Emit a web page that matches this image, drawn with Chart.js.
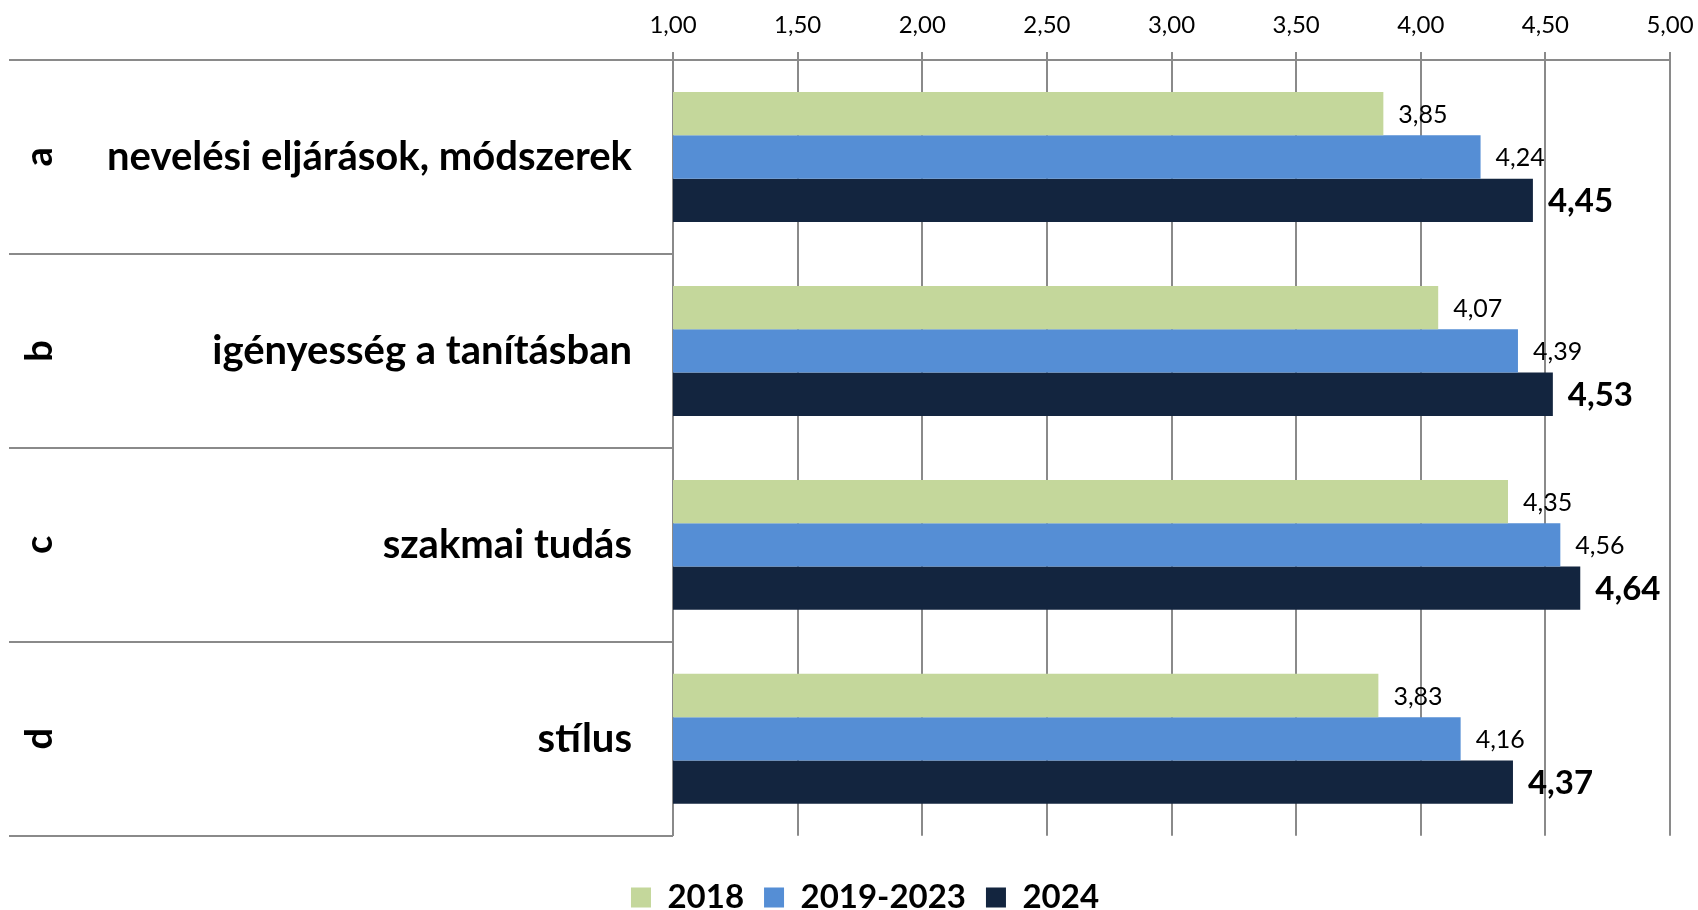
<!DOCTYPE html>
<html>
<head>
<meta charset="utf-8">
<script src="https://cdn.jsdelivr.net/npm/chart.js@4/dist/chart.umd.min.js"></script>
<style>
  html, body { margin: 0; padding: 0; background: #ffffff; }
  #wrap { width: 1698px; height: 910px; }
</style>
</head>
<body>
<div id="wrap"><canvas id="c" width="1698" height="910"></canvas></div>
<script>
const categoryLetters = ['a', 'b', 'c', 'd'];
const categories = ['nevelési eljárások, módszerek', 'igényesség a tanításban', 'szakmai tudás', 'stílus'];
const seriesNames = ['2018', '2019-2023', '2024'];
const values2018 = [3.85, 4.07, 4.35, 3.83];
const values2019_2023 = [4.24, 4.39, 4.56, 4.16];
const values2024 = [4.45, 4.53, 4.64, 4.37];
const axisMin = 1;
const axisMax = 5;
const axisStep = 0.5;

const FONT = 'Lato, "Open Sans", sans-serif';
const GRID = '#8a8a8a';
const colors = ['#c4d79b', '#558ed5', '#13253f'];

const fmt = v => v.toFixed(2).replace('.', ',');

const leftDecor = {
  id: 'leftDecor',
  afterDraw(chart) {
    const ctx = chart.ctx;
    const area = chart.chartArea;
    const yScale = chart.scales.y;
    const n = categories.length;
    const h = (area.bottom - area.top) / n;
    ctx.save();
    ctx.strokeStyle = GRID;
    ctx.lineWidth = 2;
    for (let i = 0; i <= n; i++) {
      const y = Math.round(area.top + i * h);
      ctx.beginPath();
      ctx.moveTo(9, y);
      ctx.lineTo(area.left, y);
      ctx.stroke();
    }
    ctx.fillStyle = '#000';
    ctx.font = 'bold 38px ' + FONT;
    ctx.textAlign = 'center';
    ctx.textBaseline = 'middle';
    categoryLetters.forEach((l, i) => {
      const y = yScale.getPixelForValue(i);
      ctx.save();
      ctx.translate(40, y);
      ctx.rotate(-Math.PI / 2);
      ctx.fillText(l, 0, 0);
      ctx.restore();
    });
    ctx.restore();
  }
};

const valueLabels = {
  id: 'valueLabels',
  afterDatasetsDraw(chart) {
    const ctx = chart.ctx;
    ctx.save();
    ctx.fillStyle = '#000';
    ctx.textAlign = 'left';
    ctx.textBaseline = 'middle';
    chart.data.datasets.forEach((ds, di) => {
      const meta = chart.getDatasetMeta(di);
      ctx.font = (di === 2 ? 'bold 33px ' : '25px ') + FONT;
      meta.data.forEach((el, i) => {
        ctx.fillText(fmt(ds.data[i]), el.x + 15, el.y + 1);
      });
    });
    ctx.restore();
  }
};

new Chart(document.getElementById('c'), {
  type: 'bar',
  data: {
    labels: categories,
    datasets: [
      { label: seriesNames[0], data: values2018, backgroundColor: colors[0] },
      { label: seriesNames[1], data: values2019_2023, backgroundColor: colors[1] },
      { label: seriesNames[2], data: values2024, backgroundColor: colors[2] }
    ]
  },
  options: {
    indexAxis: 'y',
    responsive: false,
    animation: false,
    devicePixelRatio: 1,
    layout: { padding: { left: 60, right: 28, top: 0, bottom: -14 } },
    datasets: { bar: { categoryPercentage: 0.67, barPercentage: 1.0 } },
    scales: {
      x: {
        position: 'top',
        min: axisMin,
        max: axisMax,
        ticks: {
          stepSize: axisStep,
          callback: v => fmt(v),
          font: { family: FONT, size: 24 },
          color: '#000',
          padding: 12,
          maxRotation: 0
        },
        grid: { color: GRID, lineWidth: 2, drawTicks: true, tickLength: 8, tickColor: GRID },
        border: { display: true, color: GRID, width: 2 },
        afterFit(scale) {
          scale.height = 60;
          scale.paddingLeft = 0;
          scale.paddingRight = 0;
        }
      },
      y: {
        ticks: {
          font: { family: FONT, size: 40, weight: 'bold' },
          color: '#000',
          padding: 41
        },
        grid: { display: false, drawTicks: false },
        border: { display: true, color: GRID, width: 2 },
        afterFit(scale) {
          scale.width = 613;
          scale.paddingTop = 0;
          scale.paddingBottom = 0;
        }
      }
    },
    plugins: {
      legend: {
        position: 'bottom',
        title: { display: true, text: '', font: { size: 21 }, padding: 0 },
        labels: {
          font: { family: FONT, size: 33, weight: 'bold' },
          color: '#000',
          boxWidth: 20,
          boxHeight: 20,
          padding: 20
        }
      },
      tooltip: { enabled: false }
    }
  },
  plugins: [leftDecor, valueLabels]
});
</script>
</body>
</html>
